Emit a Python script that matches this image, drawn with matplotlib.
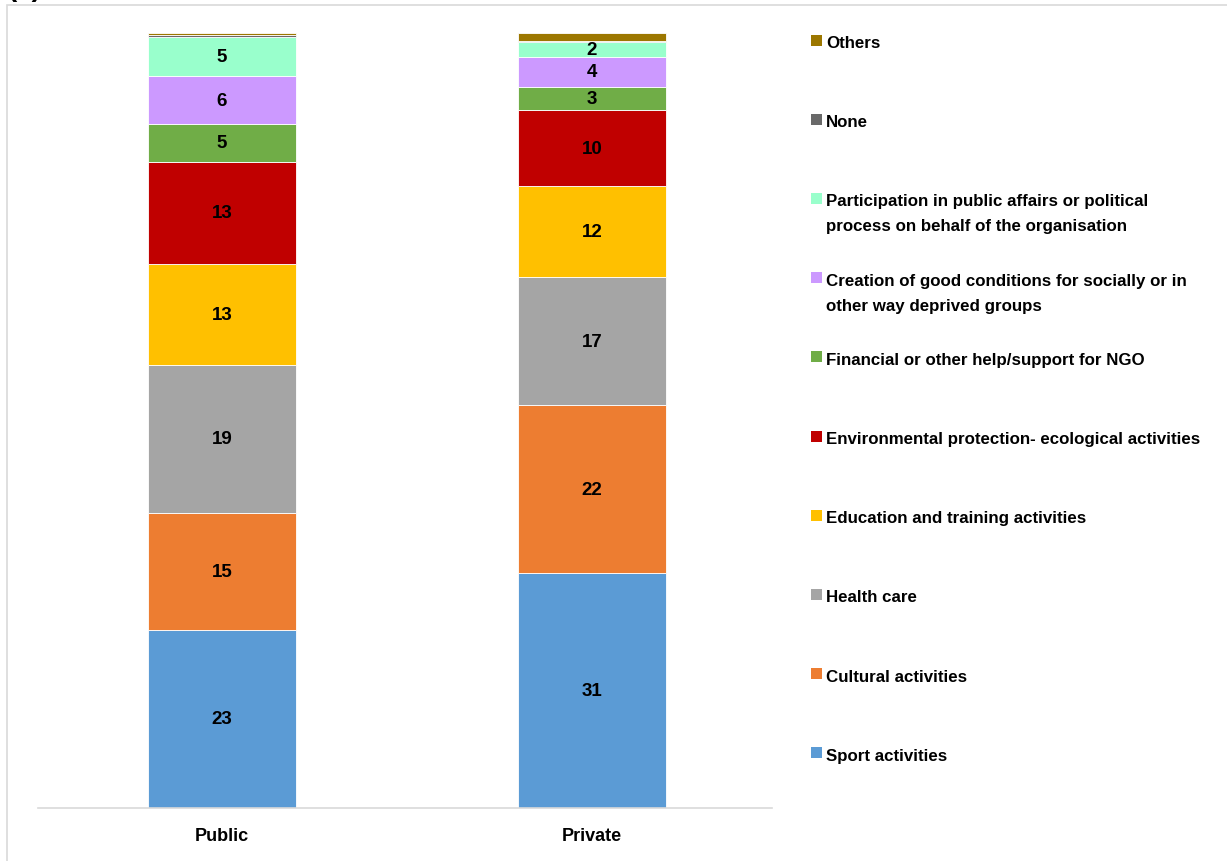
import matplotlib
matplotlib.use("Agg")
import matplotlib.pyplot as plt
from matplotlib.patches import Rectangle
import numpy as np

plt.rcParams['font.family'] = ['Liberation Sans', 'DejaVu Sans']
plt.rcParams['font.weight'] = 'bold'

groups = ["Public", "Private"]

categories = [
    "Sport activities",
    "Cultural activities",
    "Health care",
    "Education and training activities",
    "Environmental protection- ecological activities",
    "Financial or other help/support for NGO",
    "Creation of good conditions for socially or in\nother way deprived groups",
    "Participation in public affairs or political\nprocess on behalf of the organisation",
    "None",
    "Others",
]

public_values = [23.0, 15.1, 19.1, 13.0, 13.2, 4.9, 6.1, 5.1, 0.2, 0.3]
private_values = [31.0, 22.2, 17.0, 12.0, 10.0, 3.1, 3.9, 2.0, 0.2, 1.0]

colors = ["#5B9BD5", "#ED7D31", "#A5A5A5", "#FFC000", "#C00000",
          "#70AD47", "#CC99FF", "#99FFCC", "#696969", "#9C7700"]

W, H = 1227, 862
fig = plt.figure(figsize=(W / 100, H / 100), dpi=100)

# outer frame of the chart area
fig.patches.append(Rectangle((7 / W, -0.05), 1.2, 1 - 5.5 / H + 0.05,
                             transform=fig.transFigure, fill=False,
                             edgecolor="#D9D9D9", linewidth=1.2))
fig.text(8 / W, 1 + 4 / H, "(a)", fontsize=20, fontweight='bold',
         ha='left', va='baseline')

ax = fig.add_axes([38 / W, 1 - 809 / H, (772 - 38) / W, (809 - 34) / H])

data = np.array([public_values, private_values])  # shape (groups, categories)
shares = data / data.sum(axis=1, keepdims=True) * 100
x = np.arange(len(groups))
bottom = np.zeros(len(groups))
for j, cat in enumerate(categories):
    ax.bar(x, shares[:, j], width=0.4, bottom=bottom, color=colors[j],
           edgecolor="white", linewidth=0.6)
    for i in range(len(groups)):
        raw = data[i, j]
        if raw >= 1.5:
            ax.text(x[i], bottom[i] + shares[i, j] / 2, f"{raw:.0f}",
                    ha='center', va='center', fontsize=13.5, fontweight='bold',
                    color='black')
    bottom += shares[:, j]

ax.set_xlim(-0.497, 1.487)
ax.set_ylim(0, 100)
ax.set_yticks([])
ax.set_xticks(x)
ax.set_xticklabels(groups, fontsize=13, fontweight='bold')
ax.tick_params(axis='x', length=0, pad=14)
for s in ["top", "left", "right"]:
    ax.spines[s].set_visible(False)
ax.spines["bottom"].set_color("#D9D9D9")
ax.spines["bottom"].set_linewidth(1.2)

# legend, reversed order, evenly spaced entries
first_y = 41
step = 79.2
for k, j in enumerate(reversed(range(len(categories)))):
    yc = first_y + step * k
    fig.patches.append(Rectangle((811 / W, 1 - (yc + 5.5) / H), 11 / W, 11 / H,
                                 transform=fig.transFigure, facecolor=colors[j],
                                 edgecolor='none'))
    for n, line in enumerate(categories[j].split("\n")):
        fig.text(826 / W, 1 - (yc + 25 * n + 7) / H, line, fontsize=12.2,
                 fontweight='bold', ha='left', va='baseline')

fig.savefig("out.png", dpi=100)
